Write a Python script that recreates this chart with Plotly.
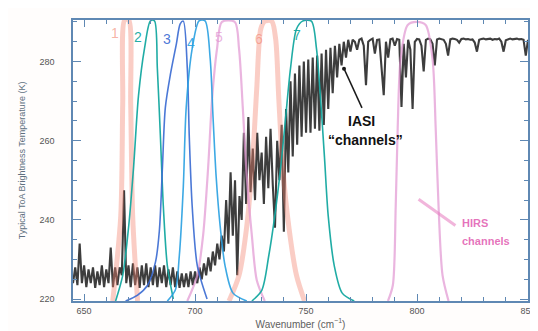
import plotly.graph_objects as go

# ---------------- data ----------------
wavenumber = list(range(645, 851))
brightness_temp = [
    # 645-669
    224, 228, 223.5, 234, 224, 228.5, 223, 227.5, 224, 228, 222.8, 227, 223.5, 228.5, 223,
    227.5, 224, 233, 223, 228, 223.5, 228, 226, 247.5, 224,
    # 670-700
    228.5, 223, 229, 223.5, 228, 222.8, 228.5, 223.5, 229, 223, 228, 223.5, 228.5, 223, 228,
    224, 228.5, 223, 227.5, 223.5, 228, 223, 227, 222.8, 226.5, 223, 226.5, 223, 227, 223.5, 227,
    # 701-712
    224, 228, 225, 229, 226, 230.5, 227, 232, 228.5, 234, 230, 236,
    # 713-720
    232, 245, 234, 252, 236, 250, 226, 246,
    # 721-740
    240, 262, 244, 266, 247, 258, 245, 262, 250, 257, 244, 261, 248, 263, 249, 238, 260, 250, 264, 237,
    # 741-770
    268, 252, 275, 256, 277, 259, 279, 261, 280, 262, 280.5, 262, 281, 263, 281.5, 262.5, 282, 264,
    283, 268, 283.5, 272, 284, 276, 284.5, 279, 285, 281, 285.5, 282.5,
    # 771-850
    285.5, 285, 283, 285.5, 285.8, 284, 274, 285, 285.5, 285.8,
    282, 285.5, 285.6, 279, 271.5, 285, 281, 285.6, 285.8, 284,
    285.7, 285.5, 268.5, 284.5, 276, 285.5, 283, 268, 285, 285.7,
    285.6, 284, 277.5, 285.5, 285.8, 285.6, 284.5, 279, 285.6, 285.8,
    285.7, 285.5, 284.5, 281.5, 285.6, 285.8, 285.7, 285.5, 284.8, 285.7,
    285.8, 285.6, 285.7, 285.5, 285.6, 284.8, 282.5, 285.5, 285.7, 285.8,
    285.6, 285.7, 285.8, 285.5, 285.7, 285.6, 285.8, 285, 282.5, 285.4,
    285.7, 285.8, 285.6, 285.7, 285.8, 285.6, 285.7, 285.5, 281.5, 285.5,
]

# HIRS spectral response functions (normalised)
ch1_wn = [662.9, 666.5, 667.4, 668.3, 670.1, 671.0, 671.9, 674.1]
ch1_r = [0, 0.3, 0.7, 1.0, 1.0, 0.7, 0.3, 0]

ch2_wn = [664.2, 667.4, 670.1, 672.3, 674.5, 677.2, 679.9, 681.7, 683.0, 684.4, 685.7, 687.5, 690.2]
ch2_r = [0, 0.091, 0.267, 0.477, 0.73, 0.898, 0.997, 0.997, 0.828, 0.582, 0.337, 0.126, 0.007]

ch3_wn = [668.7, 674.1, 678.6, 682.2, 683.9, 685.3, 686.6, 688.9, 691.6, 693.3, 694.7, 696.5, 697.4, 698.7, 701.0, 705.4]
ch3_r = [0, 0.021, 0.056, 0.14, 0.249, 0.477, 0.688, 0.807, 0.916, 0.986, 0.996, 0.828, 0.582, 0.337, 0.126, 0.007]

ch4_wn = [687.5, 691.1, 692.9, 694.7, 696.0, 698.7, 701.8, 704.5, 706.8, 708.1, 709.5, 711.3, 713.5, 717.1, 723.3]
ch4_r = [0, 0.039, 0.161, 0.407, 0.688, 0.898, 0.997, 0.997, 0.863, 0.653, 0.442, 0.267, 0.126, 0.028, 0]

ch5_wn = [696.5, 701.0, 703.6, 705.9, 707.7, 709.9, 712.1, 717.9, 719.8, 721.5, 723.3, 725.6, 727.8, 731.4]
ch5_r = [0, 0.091, 0.232, 0.477, 0.723, 0.898, 0.993, 0.993, 0.898, 0.688, 0.442, 0.232, 0.074, 0]

ch6_wn = [715.3, 719.8, 723.3, 726.0, 727.8, 729.6, 731.4, 734.5, 736.3, 737.7, 739.5, 742.2, 745.7, 749.3]
ch6_r = [0, 0.091, 0.267, 0.512, 0.758, 0.968, 0.996, 0.996, 0.933, 0.723, 0.477, 0.267, 0.091, 0]

ch7_wn = [725.6, 730.1, 733.2, 735.9, 738.6, 740.8, 743.0, 745.7, 748.4, 752.4, 754.7, 756.5, 758.3, 760.0, 762.7, 766.3, 771.7]
ch7_r = [0, 0.039, 0.161, 0.302, 0.477, 0.653, 0.828, 0.968, 0.996, 0.996, 0.898, 0.723, 0.512, 0.302, 0.126, 0.028, 0]

ch8_wn = [786.9, 789.1, 790.4, 791.3, 792.6, 795.8, 799.9, 803.9, 807.0, 808.4, 809.7, 811.5, 814.2]
ch8_r = [0, 0.056, 0.337, 0.617, 0.86, 0.982, 0.993, 0.982, 0.86, 0.617, 0.337, 0.091, 0]

channel_labels = ["1", "2", "3", "4", "5", "6", "7"]
label_wn = [663.8, 674.1, 687.5, 698.2, 710.8, 728.7, 745.7]
label_tb = [287.3, 286.1, 285.6, 284.8, 286.3, 285.6, 286.8]

salmon = "rgba(242,130,110,0.40)"
teal = "rgba(20,168,160,0.95)"
blue = "rgba(55,105,210,0.90)"
lblue = "rgba(40,160,225,0.90)"
pink = "rgba(225,150,210,0.70)"
label_colors = ["rgba(242,130,110,0.6)", teal, blue, lblue, pink, "rgba(242,130,110,0.6)", teal]

fig = go.Figure()

filters = [
    (ch1_wn, ch1_r, salmon, 5),
    (ch6_wn, ch6_r, salmon, 5),
    (ch5_wn, ch5_r, pink, 2.2),
    (ch8_wn, ch8_r, pink, 2.2),
    (ch2_wn, ch2_r, teal, 1.6),
    (ch3_wn, ch3_r, blue, 1.6),
    (ch4_wn, ch4_r, lblue, 1.6),
    (ch7_wn, ch7_r, teal, 1.6),
]
for fx, fr, col, w in filters:
    fig.add_trace(go.Scatter(x=fx, y=fr, mode="lines", yaxis="y2",
                             line=dict(color=col, width=w, shape="spline", smoothing=0.8),
                             hoverinfo="skip", showlegend=False))

fig.add_trace(go.Scatter(x=wavenumber, y=brightness_temp, mode="lines",
                         line=dict(color="rgba(45,45,45,0.92)", width=2.1),
                         showlegend=False))

# pointer lines
fig.add_shape(type="line", x0=767.1, y0=278.2, x1=775.2, y1=268.3,
              line=dict(color="#1a1a1a", width=1.5))
fig.add_trace(go.Scatter(x=[767.1], y=[278.2], mode="markers",
                         marker=dict(color="#1a1a1a", size=4), showlegend=False))
fig.add_shape(type="line", x0=800.7, y0=245.2, x1=817.3, y1=238.6,
              line=dict(color="rgba(230,120,190,0.55)", width=3))

annotations = []
for t, xw, yt, c in zip(channel_labels, label_wn, label_tb, label_colors):
    annotations.append(dict(x=xw, y=yt, text=t, showarrow=False,
                            font=dict(size=14, color=c, family="Liberation Sans")))
annotations += [
    dict(x=774.8, y=265.0, text="<b>IASI</b>", showarrow=False,
         font=dict(size=14, color="#111111", family="Liberation Sans")),
    dict(x=777.0, y=260.1, text="<b>“channels”</b>", showarrow=False,
         font=dict(size=14, color="#111111", family="Liberation Sans")),
    dict(x=819.5, y=239.3, text="<b>HIRS</b>", showarrow=False, xanchor="left",
         font=dict(size=11, color="rgba(225,90,175,0.85)", family="Liberation Sans")),
    dict(x=819.5, y=234.6, text="<b>channels</b>", showarrow=False, xanchor="left",
         font=dict(size=11, color="rgba(225,90,175,0.85)", family="Liberation Sans")),
]

axis_col = "#5f88b3"
fig.update_layout(
    width=538, height=331,
    margin=dict(l=65, r=15, t=10, b=34),
    paper_bgcolor="#fffdfc", plot_bgcolor="#ffffff",
    font=dict(family="Liberation Sans", size=9, color="#555555"),
    annotations=annotations,
    xaxis=dict(range=[645, 850], tick0=650, dtick=50, ticks="inside", ticklen=7,
               tickcolor=axis_col, showline=True, linecolor=axis_col, linewidth=1.5,
               mirror="ticks", showgrid=False, zeroline=False,
               minor=dict(ticks="inside", ticklen=4, dtick=10, tickcolor=axis_col),
               title=dict(text="Wavenumber (cm<sup>−1</sup>)", font=dict(size=10, color="#606060"),
                          standoff=6),
               tickfont=dict(size=9, color="#555555")),
    yaxis=dict(range=[219.5, 290.5], tick0=220, dtick=20, ticks="inside", ticklen=8,
               tickcolor=axis_col, showline=True, linecolor=axis_col, linewidth=1.5,
               mirror="ticks", showgrid=False, zeroline=False, ticklabelstandoff=15,
               minor=dict(ticks="inside", ticklen=4, dtick=5, tickcolor=axis_col),
               title=dict(text="Typical ToA Brightness Temperature (K)",
                          font=dict(size=9, color="#607080"), standoff=12),
               tickfont=dict(size=9, color="#555555")),
    yaxis2=dict(range=[0, 1.0], overlaying="y", visible=False),
)

fig.write_html("out.html")
